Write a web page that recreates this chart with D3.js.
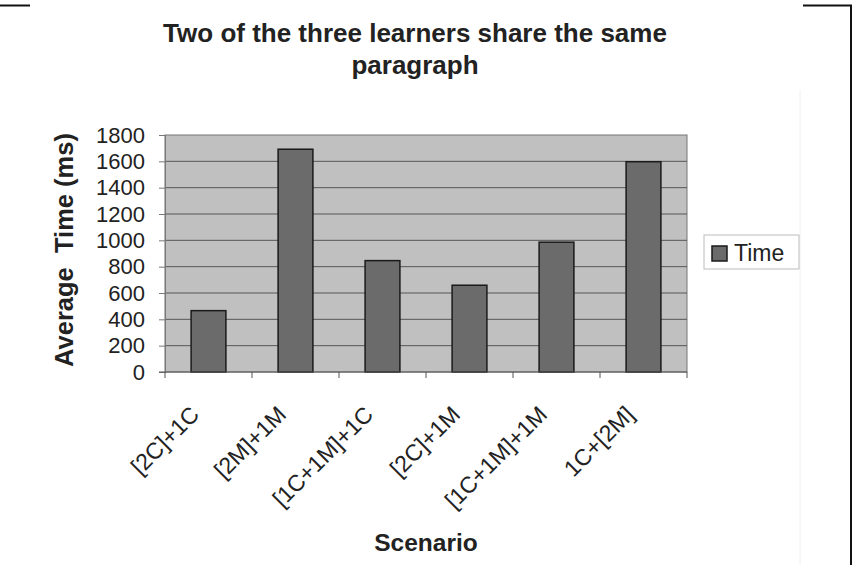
<!DOCTYPE html>
<html><head><meta charset="utf-8">
<script src="https://cdn.jsdelivr.net/npm/d3@7"></script>
<style>body{margin:0;background:#fff;}svg{display:block;font-family:"Liberation Sans",Arial,sans-serif;}</style>
</head><body><svg id="c" width="853" height="565"></svg>
<script>
const categories = ["[2C]+1C","[2M]+1M","[1C+1M]+1C","[2C]+1M","[1C+1M]+1M","1C+[2M]"];
const timeValues = [466, 1692, 846, 659, 986, 1597];
const yTicks = [0,200,400,600,800,1000,1200,1400,1600,1800];
const seriesName = "Time";
const titleLines = ["Two of the three learners share the same","paragraph"];

const svg = d3.select("#c");
const m = {left:165, top:135, right:687, bottom:372};
const x = d3.scaleBand().domain(categories).range([m.left, m.right]).paddingInner(0.6).paddingOuter(0.3);
const xb = d3.scaleBand().domain(categories).range([m.left, m.right]);
const y = d3.scaleLinear().domain([0,1800]).range([m.bottom, m.top]);

// frame lines
svg.append("line").attr("x1",0).attr("x2",30).attr("y1",5.5).attr("y2",5.5).attr("stroke","#111").attr("stroke-width",2);
svg.append("path").attr("d","M803,5.5H851V565").attr("fill","none").attr("stroke","#111").attr("stroke-width",2);
svg.append("line").attr("x1",800).attr("x2",800).attr("y1",90).attr("y2",565).attr("stroke","#f0f0f0").attr("stroke-width",1);

// plot bg
svg.append("rect").attr("x",m.left).attr("y",m.top).attr("width",m.right-m.left).attr("height",m.bottom-m.top)
  .attr("fill","#c0c0c0").attr("stroke","#777").attr("stroke-width",1);

// gridlines
svg.append("g").selectAll("line").data(yTicks.filter(d=>d>0 && d<1800)).join("line")
  .attr("x1",m.left).attr("x2",m.right).attr("y1",d=>y(d)).attr("y2",d=>y(d))
  .attr("stroke","#575757").attr("stroke-width",1);

// bars
svg.append("g").selectAll("rect").data(categories).join("rect")
  .attr("x",d=>x(d)).attr("width",x.bandwidth())
  .attr("y",(d,i)=>y(timeValues[i])).attr("height",(d,i)=>y(0)-y(timeValues[i]))
  .attr("fill","#6b6b6b").attr("stroke","#1a1a1a").attr("stroke-width",1.5);

// y axis
const ya = svg.append("g").attr("transform",`translate(${m.left},0)`)
  .call(d3.axisLeft(y).tickValues(yTicks).tickFormat(d3.format("d")).tickSize(6).tickPadding(14));
ya.select(".domain").attr("stroke","#777");
ya.selectAll(".tick line").attr("stroke","#777");
ya.selectAll("text").attr("font-size",22).attr("fill","#222").attr("font-family","Liberation Sans, Arial, sans-serif");

// x axis
const xa = svg.append("g").attr("transform",`translate(0,${m.bottom})`);
xa.append("line").attr("x1",m.left-6).attr("x2",m.right).attr("stroke","#555");
xa.selectAll(".tk").data(d3.range(categories.length+1)).join("line")
  .attr("x1",i=>m.left+i*xb.step()).attr("x2",i=>m.left+i*xb.step()).attr("y1",0).attr("y2",6).attr("stroke","#555");
xa.selectAll("text").data(categories).join("text")
  .attr("transform",d=>`translate(${xb(d)+xb.bandwidth()/2-8},${44}) rotate(-45)`)
  .attr("text-anchor","end").attr("font-size",23).attr("fill","#222").text(d=>d);

// title
svg.append("text").attr("x",415).attr("y",42).attr("text-anchor","middle").attr("font-size",26).attr("font-weight","bold").attr("fill","#222").text(titleLines[0]);
svg.append("text").attr("x",415).attr("y",74).attr("text-anchor","middle").attr("font-size",26).attr("font-weight","bold").attr("fill","#222").text(titleLines[1]);

// axis titles
svg.append("text").attr("x",426).attr("y",551).attr("text-anchor","middle").attr("font-size",24.5).attr("font-weight","bold").attr("fill","#222").text("Scenario");
svg.append("text").attr("transform","translate(73,250) rotate(-90)").attr("text-anchor","middle").attr("font-size",25.5).attr("font-weight","bold").attr("fill","#222").attr("xml:space","preserve").style("white-space","pre").text("Average  Time (ms)");

// legend
const lg = svg.append("g");
lg.append("rect").attr("x",704).attr("y",235).attr("width",95).attr("height",34).attr("fill","#fff").attr("stroke","#bbb");
lg.append("rect").attr("x",712).attr("y",246).attr("width",15).attr("height",15).attr("fill","#6b6b6b").attr("stroke","#1a1a1a").attr("stroke-width",1.5);
lg.append("text").attr("x",734).attr("y",261).attr("font-size",23).attr("fill","#222").text(seriesName);
</script></body></html>
